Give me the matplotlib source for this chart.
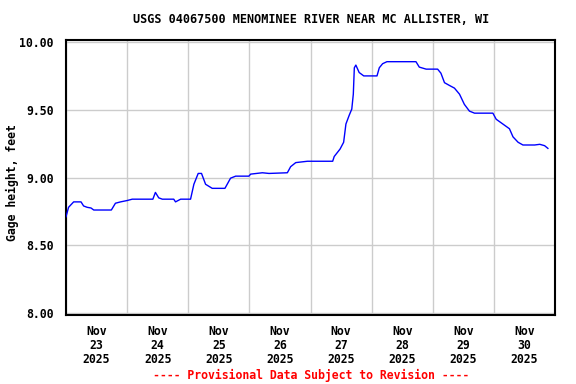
import numpy as np
import matplotlib
matplotlib.use("Agg")
import matplotlib.pyplot as plt

# ===== 数据：从 Nov 23 00:00 起算的小时数，及水位（英尺）=====
hours = [0, 1.0, 3.0, 5.9, 6.9, 8.3, 9.8, 10.9, 17.8, 19.4, 21.4, 24.0, 26.0,
         34.1, 35.1, 36.4, 37.8, 42.3, 43.0, 45.0, 48.9, 50.2, 51.9, 53.2, 54.8,
         57.4, 62.4, 64.6, 66.6, 71.8, 72.5, 77.1, 79.7, 86.9, 88.2, 90.2, 94.8,
         100.1, 104.7, 105.3, 107.6, 109.0, 109.9, 111.2, 112.2, 112.8, 113.2,
         113.8, 115.1, 116.9, 122.1, 123.0, 124.3, 126.0, 137.4, 138.7, 141.4,
         145.9, 147.2, 148.6, 150.5, 152.5, 154.5, 156.4, 158.4, 160.4, 167.6,
         168.9, 171.5, 174.1, 175.5, 177.5, 179.4, 184.0, 186.0, 187.9, 189.2]
gage = [8.71, 8.78, 8.82, 8.82, 8.79, 8.78, 8.775, 8.76, 8.76, 8.81, 8.82, 8.83, 8.84,
        8.84, 8.89, 8.85, 8.84, 8.84, 8.82, 8.84, 8.84, 8.95, 9.03, 9.03, 8.95,
        8.92, 8.92, 8.995, 9.01, 9.01, 9.025, 9.035, 9.03, 9.035, 9.08, 9.11, 9.12,
        9.12, 9.12, 9.155, 9.21, 9.26, 9.395, 9.46, 9.505, 9.615, 9.81,
        9.83, 9.775, 9.75, 9.75, 9.81, 9.84, 9.855, 9.855, 9.815, 9.80,
        9.80, 9.77, 9.70, 9.68, 9.66, 9.615, 9.54, 9.49, 9.475, 9.475,
        9.43, 9.395, 9.36, 9.30, 9.26, 9.24, 9.24, 9.245, 9.235, 9.215]
day_labels = ["Nov\n23\n2025", "Nov\n24\n2025", "Nov\n25\n2025", "Nov\n26\n2025",
              "Nov\n27\n2025", "Nov\n28\n2025", "Nov\n29\n2025", "Nov\n30\n2025"]
y_ticks = [8.0, 8.5, 9.0, 9.5, 10.0]

plt.rcParams['font.family'] = ['DejaVu Sans Mono']
plt.rcParams['font.weight'] = 'bold'
FS = 8.3

fig = plt.figure(figsize=(5.76, 3.84), dpi=100)
ax = fig.add_axes([0.1146, 0.1797, 0.849, 0.7161])

ax.plot(hours, gage, color="#0000ff", linewidth=1.0, zorder=3)

ax.set_xlim(0, 192)
ax.set_ylim(7.985, 10.015)

# 每日 00:00 画网格线，中午处放日期标签
ax.set_xticks(np.arange(0, 193, 24))
ax.set_xticklabels([])
ax.set_xticks(np.arange(12, 192, 24), minor=True)
ax.set_xticklabels(day_labels, minor=True, fontsize=FS, fontweight="bold",
                   linespacing=1.1)
ax.set_yticks(y_ticks)
ax.set_yticklabels([f"{v:.2f}" for v in y_ticks], fontsize=FS, fontweight="bold")
ax.tick_params(which="both", length=0)
ax.tick_params(axis="x", which="minor", pad=7)
ax.tick_params(axis="y", pad=9)

ax.grid(True, which="major", color="#cccccc", linewidth=1.0, zorder=0)
for s in ax.spines.values():
    s.set_linewidth(1.5)
    s.set_color("black")

fig.text(12 / 576, 1 - 182.5 / 384, "Gage height, feet", rotation=90,
         ha="center", va="center", fontsize=FS, fontweight="bold")
fig.text(0.54, 0.949, "USGS 04067500 MENOMINEE RIVER NEAR MC ALLISTER, WI",
         ha="center", va="center", fontsize=8.5, fontweight="bold")
fig.text(0.54, 0.023, "---- Provisional Data Subject to Revision ----",
         ha="center", va="center", fontsize=FS, fontweight="bold", color="red")

fig.savefig("out.png", dpi=100)
